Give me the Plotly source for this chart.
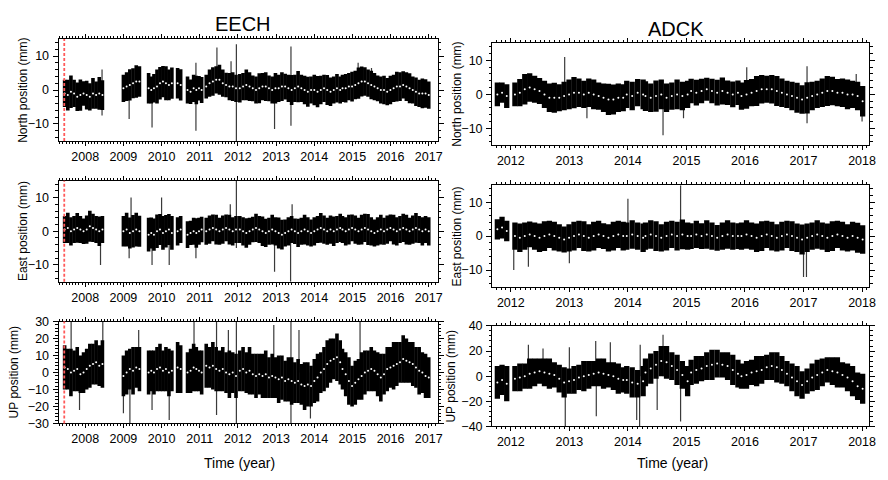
import numpy as np
import plotly.graph_objects as go

FONT = "Liberation Sans, Arial, Helvetica, sans-serif"

# ---------------- EECH ----------------
eech_segs = [(2007.46, 2008.45), (2009.00, 2009.42), (2009.66, 2009.80), (2009.88, 2010.27),
             (2010.42, 2010.50), (2010.68, 2010.76), (2010.84, 2011.05), (2011.17, 2011.95),
             (2012.05, 2014.68), (2014.74, 2017.00)]

eech_n_c = [[-1.0, -1.5, -0.5, -1.0, -2.0, -1.5, -1.0, -1.5, -2.0, -1.0, -1.5, -1.0, -1.5],
            [0.5, 1.0, 1.5, 2.0, 2.5, 2.5],
            [0.5, 0.0, 0.5],
            [1.0, 2.0, 2.5, 2.0, 1.5, 2.0],
            [2.0, 1.5],
            [0.0, -0.5],
            [0.5, 0.0, 0.5, 0.0],
            [1.0, 2.0, 2.5, 3.0, 3.0, 2.0, 1.5, 1.0, 1.0, 0.5],
            [0.5, 1.0, 1.5, 1.0, 0.5, 0.0, 0.5, 1.0, 1.0, 0.5, 0.0, 0.5, 0.5, 1.0, 1.0, 0.5,
             0.0, 0.5, 1.0, 0.5, 0.0, -0.5, 0.0, 0.0, -0.5, 0.0, 0.5, 0.0, -0.5, 0.0, 0.5, 0.0],
            [0.5, 0.5, 1.0, 1.0, 1.5, 2.0, 2.5, 2.5, 2.0, 1.5, 1.0, 0.5, 0.0, 0.0, -0.5, 0.0,
             0.5, 1.0, 1.0, 1.5, 1.0, 0.5, 0.0, -0.5, -1.0, -1.0, -1.0, -1.5]]
eech_n_e = [[4.0, 4.5, 4.8, 4.0, 4.2, 4.6, 3.6, 4.2, 4.0, 4.5, 4.0, 4.8, 4.4],
            [4.0, 4.2, 4.6, 4.4, 4.8, 4.5],
            [4.5, 4.0, 4.2],
            [5.0, 4.8, 4.6, 5.0, 4.5, 4.6],
            [4.5, 4.6],
            [4.0, 3.6],
            [4.0, 4.2, 3.6, 3.8],
            [3.5, 4.0, 4.2, 4.0, 4.4, 4.0, 3.6, 4.0, 4.2, 4.0],
            [4.2, 4.0, 4.5, 4.2, 3.8, 4.0, 4.4, 4.0, 4.2, 3.8, 4.0, 4.5, 4.0, 4.2, 3.8, 4.0,
             4.4, 4.0, 4.6, 4.0, 4.2, 4.4, 4.0, 4.5, 4.6, 4.2, 4.0, 4.4, 4.2, 4.0, 4.2, 4.0],
            [4.0, 4.2, 4.0, 4.4, 4.2, 4.6, 4.4, 4.2, 4.0, 4.2, 4.0, 3.8, 4.0, 4.2, 4.0, 4.2,
             4.0, 4.4, 4.2, 4.0, 4.2, 4.4, 4.0, 4.2, 4.0, 4.4, 4.2, 4.0]]
eech_n_spike_x = [2008.44, 2009.15, 2009.75, 2010.90, 2011.45, 2011.82, 2011.96, 2012.96, 2013.39, 2015.15, 2015.50]
eech_n_spike_lo = [-7.5, -8.5, -11.0, -12.0, 0.0, 0.0, -15.0, -11.5, -10.5, 0.0, 0.0]
eech_n_spike_hi = [6.0, 0.0, 0.0, 8.0, 12.5, 8.5, 13.5, 0.0, 12.8, 8.0, 6.5]

eech_e_c = [[0.5, 1.0, 0.0, 0.5, 1.0, 0.5, 0.0, 0.5, 1.5, 1.0, 0.5, 0.0, 0.5],
            [0.0, 0.5, -0.5, 0.0, 0.5, 0.0],
            [-1.0, -0.5, -1.0],
            [0.0, 0.5, -0.5, 0.0, 0.5, -0.5],
            [0.0, 0.5],
            [-1.0, -0.5],
            [0.0, -0.5, 0.0, 0.5],
            [0.0, 0.5, 1.0, 0.5, 0.0, 0.5, 1.0, 0.5, 0.0, 0.5],
            [0.5, 0.0, -0.5, 0.0, 0.5, 1.0, 0.5, 0.0, -0.5, 0.0, 0.5, 0.0, -0.5, -1.0, -0.5, 0.0,
             0.5, 0.0, -0.5, 0.0, 0.5, 0.0, -0.5, 0.0, 0.5, 1.0, 0.5, 0.0, 0.5, 0.0, 0.5, 1.0],
            [0.5, 0.0, 0.5, 1.0, 0.5, 0.0, 0.5, 1.0, 0.5, 0.0, -0.5, 0.0, 0.5, 0.0, 0.5, 1.0,
             0.5, 0.0, 0.5, 1.0, 0.5, 0.0, 0.5, 1.0, 0.5, 0.0, 0.5, 0.0]]
eech_e_e = [[4.0, 4.5, 4.2, 4.0, 4.4, 4.0, 3.8, 4.2, 4.6, 4.2, 4.0, 4.4, 4.0],
            [4.5, 5.0, 4.6, 4.8, 5.0, 4.6],
            [5.0, 4.6, 4.8],
            [5.0, 4.6, 5.0, 4.8, 4.6, 5.0],
            [4.2, 4.0],
            [4.0, 3.6],
            [4.0, 4.4, 4.0, 3.8],
            [4.0, 4.2, 4.0, 4.4, 4.0, 4.2, 4.0, 4.4, 4.2, 4.0],
            [4.0, 4.2, 4.4, 4.0, 3.8, 4.2, 4.0, 4.4, 4.2, 4.0, 4.4, 4.2, 4.6, 4.4, 4.0, 4.2,
             4.0, 3.8, 4.2, 4.0, 4.4, 4.2, 4.0, 4.2, 4.0, 4.4, 4.2, 4.0, 4.2, 4.4, 4.0, 4.2],
            [4.0, 4.2, 4.4, 4.0, 4.2, 4.0, 4.4, 4.2, 4.6, 4.2, 4.0, 4.2, 4.4, 4.0, 4.2, 4.0,
             4.4, 4.2, 4.0, 4.2, 4.4, 4.0, 4.2, 4.4, 4.0, 4.2, 4.0, 4.2]]
eech_e_spike_x = [2008.40, 2009.15, 2009.20, 2009.75, 2010.00, 2010.20, 2010.90, 2011.80, 2011.96, 2012.96, 2013.38, 2013.42]
eech_e_spike_lo = [-10, -8, 0, -10, 0, -10, -8, 0, -5, -12, -15, 0]
eech_e_spike_hi = [0, 0, 10, 0, 10, 0, 0, 8, 15, 0, 0, 8]

eech_u_c = [[3, 2, 0, 1, 2, -1, 0, 2, 4, 5, 6, 4, 5],
            [-2, 0, 2, 1, 3, 2],
            [0, 1, 0],
            [2, 3, 1, 2, 0, 1],
            [3, 2],
            [0, 1],
            [3, 2, 1, 0],
            [4, 3, 4, 2, 1, 2, 0, -1, 0, -2],
            [1, 2, 0, 1, -1, -2, -1, -2, -1, -3, -2, -3, -4, -3, -5, -4, -5, -6, -5, -7, -8, -7,
             -8, -5, -3, 0, 2, 5, 7, 8, 9, 6],
            [2, -1, -5, -8, -6, -4, -2, 0, 1, 2, 1, -1, -3, -1, 2, 3, 4, 5, 6, 8, 7, 6, 5, 3, 1,
             0, -2, -3]]
eech_u_e = [[13, 12, 14, 12, 13, 11, 12, 12, 13, 12, 13, 12, 14],
            [12, 13, 12, 14, 12, 13],
            [13, 12, 13],
            [13, 14, 12, 13, 14, 12],
            [15, 14],
            [12, 13],
            [14, 13, 12, 13],
            [13, 12, 14, 13, 12, 13, 12, 14, 12, 13],
            [12, 13, 12, 14, 12, 13, 12, 13, 14, 12, 13, 12, 14, 13, 12, 13, 14, 12, 13, 12, 14,
             13, 12, 13, 14, 12, 13, 14, 13, 12, 14, 13],
            [12, 13, 14, 12, 13, 12, 14, 13, 12, 13, 12, 13, 14, 12, 13, 12, 14, 13, 12, 14, 13,
             12, 13, 12, 14, 12, 13, 12]]
eech_u_spike_x = [2007.63, 2007.85, 2008.46, 2009.00, 2009.17, 2009.40, 2009.75, 2010.20, 2010.85,
                  2011.44, 2011.75, 2011.96, 2012.94, 2013.39, 2013.60, 2013.90, 2015.20]
eech_u_spike_lo = [0, -22, -8, -24, -30, 0, -22, -28, 0, -25, 0, -30, 0, -30, 0, -27, 0]
eech_u_spike_hi = [30, 0, 30, 0, 0, 25, 0, 0, 30, 30, 25, 30, 28, 30, 25, 0, 30]

# ---------------- ADCK ----------------
adck_segs = [(2011.77, 2011.93), (2012.07, 2013.92), (2013.98, 2014.26), (2014.30, 2015.02),
             (2015.08, 2015.88), (2015.94, 2018.01)]

adck_n_c = [[0, 0.5, -0.5],
            [0, 0.5, 1.5, 2, 1.5, 1, 0, -1, -1, -1, -0.5, 0, 0.5, 0.5, 0, 0.5, 0, -0.5, -1, -1.5, -1.5, -1, -1],
            [0, -0.5, 0.5, 0],
            [-0.5, -1, -0.5, 0, -1, -0.5, 0, -0.5, 0],
            [1, 0.5, 1, 1.5, 1, 0.5, 1, 0.5, 0, 0.5],
            [-0.5, 0, 0.5, 1, 1.5, 1.5, 1.5, 1, 0.5, 0, -0.5, -1, -1.5, -1, -0.5, 0, 0.5, 1, 1, 0.5, 0.5, 0, 0, -0.5, -2]]
adck_n_e = [[3.5, 3.0, 3.5],
            [3.5, 4, 4.5, 4.2, 4, 3.8, 4, 4.2, 4.4, 4, 4.2, 4.4, 4.6, 4.2, 4, 4.2, 4.4, 4, 4.2, 4.6, 4.4, 4.2, 4],
            [4, 4.2, 4, 4.4],
            [4.4, 4.2, 4.6, 4.4, 4.2, 4.0, 4.4, 4.2, 4.0],
            [3.6, 3.8, 3.6, 3.4, 3.6, 3.8, 4.0, 3.6, 3.8, 3.6],
            [4, 4.2, 4, 4.4, 4.2, 4, 4.2, 4.4, 4.2, 4, 4.2, 4.4, 4.2, 4.6, 4.2, 4, 4.2, 4.4, 4.2, 4, 4.2, 4.4, 4, 4.2, 4.5]]
adck_n_spike_x = [2012.92, 2014.60, 2016.03, 2017.06, 2017.90, 2018.00, 2013.30, 2014.95]
adck_n_spike_lo = [0, -12, 0, -8.5, 0, -8, -7, -7]
adck_n_spike_hi = [11, 0, 8, 8.3, 6, 0, 0, 0]

adck_e_c = [[2, 2.5, 1.5],
            [0, -0.5, 0, 0.5, 0, -0.5, 0, 0.5, 0, -0.5, -1, -0.5, 0, 0.5, 0, -0.5, 0, 0.5, 0, -0.5, 0, 0.5, 0],
            [0, 0.5, 0, -0.5],
            [0, 0.5, 0, -0.5, 0, 0.5, 0, 0.5, 0],
            [0, 0.5, 0, 0.5, 0, -0.5, 0, 0.5, 0, 0],
            [0, 0.5, 0, -0.5, 0, 0.5, 0, -0.5, 0, 0.5, 0, -0.5, -1, -0.5, 0, 0.5, 0, -0.5, 0, 0.5, 0, -0.5, 0, -0.5, -1]]
adck_e_e = [[3, 3.2, 3],
            [4, 4.2, 4, 3.8, 4, 4.2, 4.4, 4, 4.2, 4, 3.8, 4, 4.2, 4, 4.4, 4, 4.2, 4, 3.8, 4, 4.2, 4, 4.2],
            [4, 4.2, 4, 4.2],
            [4, 4.2, 4.4, 4, 4.2, 4, 4.2, 4.4, 4],
            [3.8, 4, 3.8, 4.2, 4, 3.8, 4, 4.2, 4, 3.8],
            [4, 4.2, 4, 4.2, 4.4, 4, 4.2, 4, 4.2, 4, 4.4, 4.2, 4.4, 4.2, 4, 4.2, 4, 4.2, 4.4, 4, 4.2, 4, 4.2, 4.4, 4.2]]
adck_e_spike_x = [2012.05, 2012.30, 2014.00, 2014.90, 2017.00, 2017.05, 2013.00]
adck_e_spike_lo = [-10, -9, 0, 0, -12, -12, -8]
adck_e_spike_hi = [0, 0, 11, 15, 0, 0, 0]

adck_u_c = [[-5, -3, -6],
            [-2, -1, 0, 2, 3, 4, 3, 2, 1, -2, -5, -4, -3, -1, 0, 1, 2, 3, 2, 1, 0, -2, -3],
            [-3, -5, -6, -4],
            [3, 6, 9, 12, 11, 8, 5, 1, -4],
            [3, 5, 6, 8, 9, 10, 9, 8, 5, 2],
            [0, 1, 3, 4, 5, 7, 8, 7, 5, 2, -1, -4, -7, -4, -1, 1, 3, 5, 4, 3, 1, -1, -4, -8, -10]]
adck_u_e = [[13, 12, 14],
            [10, 11, 10, 12, 11, 10, 11, 12, 10, 11, 12, 10, 11, 10, 12, 11, 10, 11, 12, 10, 11, 12, 10],
            [11, 12, 11, 12],
            [11, 12, 11, 12, 13, 11, 12, 11, 12],
            [10, 11, 10, 11, 12, 11, 10, 11, 12, 11],
            [10, 11, 10, 12, 11, 10, 11, 12, 11, 10, 11, 12, 11, 10, 11, 12, 11, 10, 11, 12, 10, 11, 12, 11, 12]]
adck_u_spike_x = [2012.30, 2012.55, 2012.93, 2013.00, 2013.45, 2013.46, 2013.70, 2014.15, 2014.20,
                  2014.21, 2014.50, 2014.60, 2014.90]
adck_u_spike_lo = [0, 0, -40, 0, 0, -32, 0, -35, -40, 0, -27, 0, -36]
adck_u_spike_hi = [25, 22, 0, 23, 28, 0, 27, 0, 0, 25, 0, 33, 0]

eech_years = [2008, 2009, 2010, 2011, 2012, 2013, 2014, 2015, 2016, 2017]
adck_years = [2012, 2013, 2014, 2015, 2016, 2017, 2018]
eech_event = 2007.45

# ---------------- figure ----------------
W, H = 888, 480
fig = go.Figure()


def flat(segs, cs, es):
    xs, ys, ee = [], [], []
    for (a, b), c, e in zip(segs, cs, es):
        xs += list(np.linspace(a, b, len(c)))
        ys += list(c)
        ee += list(e)
    return xs, ys, ee


panels = [
    (eech_segs, eech_n_c, eech_n_e, eech_n_spike_x, eech_n_spike_lo, eech_n_spike_hi, 1, 3.6),
    (adck_segs, adck_n_c, adck_n_e, adck_n_spike_x, adck_n_spike_lo, adck_n_spike_hi, 2, 5.3),
    (eech_segs, eech_e_c, eech_e_e, eech_e_spike_x, eech_e_spike_lo, eech_e_spike_hi, 3, 3.6),
    (adck_segs, adck_e_c, adck_e_e, adck_e_spike_x, adck_e_spike_lo, adck_e_spike_hi, 4, 5.3),
    (eech_segs, eech_u_c, eech_u_e, eech_u_spike_x, eech_u_spike_lo, eech_u_spike_hi, 5, 3.6),
    (adck_segs, adck_u_c, adck_u_e, adck_u_spike_x, adck_u_spike_lo, adck_u_spike_hi, 6, 5.3),
]

for segs, cs, es, sx, slo, shi, k, th in panels:
    xa = "x" if k == 1 else f"x{k}"
    ya = "y" if k == 1 else f"y{k}"
    lx, ly = [], []
    for x0, lo, hi in zip(sx, slo, shi):
        lx += [x0, x0, None]
        ly += [lo, hi, None]
    fig.add_trace(go.Scatter(x=lx, y=ly, mode="lines", line=dict(color="#3a3a3a", width=1.2),
                             xaxis=xa, yaxis=ya, showlegend=False, hoverinfo="skip"))
    xs, ys, ee = flat(segs, cs, es)
    fig.add_trace(go.Scatter(
        x=xs, y=ys, mode="markers",
        marker=dict(color="white", size=2.0, line=dict(width=0)),
        error_y=dict(type="data", array=ee, symmetric=True, width=0, thickness=th, color="black"),
        xaxis=xa, yaxis=ya, showlegend=False))

left_x = (59, 441)
right_x = (496, 876)
rows_left = [(33, 138), (179, 283), (324, 429)]
rows_right = [(37.5, 142.5), (183.5, 288.5), (328.5, 432)]


def xd(p):
    return [p[0] / W, p[1] / W]


def yd(p):
    return [1 - p[1] / H, 1 - p[0] / H]


common = dict(showline=True, linecolor="black", linewidth=1, mirror="allticks",
              ticks="outside", tickcolor="black", showgrid=False, zeroline=False,
              tickfont=dict(family=FONT, size=12.5, color="black"), fixedrange=True)

ranges_y = [(-15, 15), (-15, 15), (-15, 15), (-15, 15), (-30, 30), (-40, 40)]
yticks = [[-10, 0, 10], [-10, 0, 10], [-10, 0, 10], [-10, 0, 10],
          [-30, -20, -10, 0, 10, 20, 30], [-40, -20, 0, 20, 40]]
yminor = [2, 2, 2, 2, 2, 4]

lay = {}
for k in range(1, 7):
    left = (k % 2 == 1)
    row = (k - 1) // 2
    xname = "xaxis" if k == 1 else f"xaxis{k}"
    yname = "yaxis" if k == 1 else f"yaxis{k}"
    xs_ = "x" if k == 1 else f"x{k}"
    ys_ = "y" if k == 1 else f"y{k}"
    years = eech_years if left else adck_years
    xr = [2007.30, 2017.23] if left else [2011.68, 2018.12]
    lay[xname] = dict(common, domain=xd(left_x if left else right_x), anchor=ys_,
                      range=xr, tickvals=years, ticktext=[str(y) for y in years], ticklen=4,
                      minor=dict(dtick=1 / 12, tick0=2000, ticks="outside", ticklen=2,
                                 tickcolor="black", showgrid=False))
    rr = rows_left[row] if left else rows_right[row]
    lay[yname] = dict(common, domain=yd(rr), anchor=xs_, range=list(ranges_y[k - 1]),
                      tickvals=yticks[k - 1],
                      ticktext=[("\u2212" + str(-v)) if v < 0 else str(v) for v in yticks[k - 1]],
                      ticklen=5, ticklabelstandoff=1,
                      minor=dict(dtick=yminor[k - 1], tick0=0, ticks="outside", ticklen=2.5,
                                 tickcolor="black", showgrid=False))

shapes = []
for k in (1, 3, 5):
    xs_ = "x" if k == 1 else f"x{k}"
    ys_ = "y" if k == 1 else f"y{k}"
    shapes.append(dict(type="line", xref=xs_, yref=f"{ys_} domain", x0=eech_event, x1=eech_event,
                       y0=0, y1=1, line=dict(color="#ff5a5a", width=1.8, dash="3px,2px"), layer="above"))


def ann(text, xp, yp, size, angle=0):
    return dict(text=text, x=xp / W, y=1 - yp / H, xref="paper", yref="paper",
                xanchor="center", yanchor="middle", showarrow=False, textangle=angle,
                font=dict(family=FONT, size=size, color="black"))


annotations = [ann("EECH", 245, 18, 20), ann("ADCK", 681, 23, 20)]
ytitles = ["North position (mm)", "East position (mm)", "UP position (mm)"]
lx_pos = [23, 23, 14]
rx_pos = [461, 461, 455]
for i, t in enumerate(ytitles):
    rl = rows_left[i]
    rr = rows_right[i]
    annotations.append(ann(t, lx_pos[i], (rl[0] + rl[1]) / 2, 12, -90))
    annotations.append(ann(t, rx_pos[i], (rr[0] + rr[1]) / 2, 12, -90))
for xc in (241, 678):
    annotations.append(ann("Time (year)", xc, 470, 14))

fig.update_layout(width=W, height=H, margin=dict(l=0, r=0, t=0, b=0),
                  paper_bgcolor="white", plot_bgcolor="white",
                  shapes=shapes, annotations=annotations, **lay)

fig.write_html("out.html", config={"displayModeBar": False, "staticPlot": True},
               post_script="document.body.style.margin='0px';document.body.style.overflow='hidden';")
